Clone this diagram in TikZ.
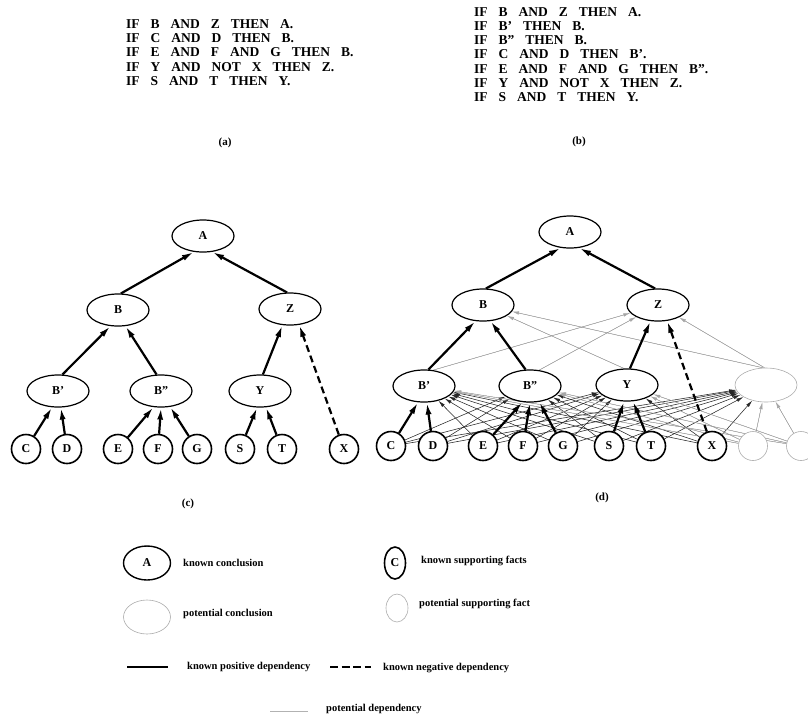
\documentclass[tikz,border=0pt]{standalone}
\usepackage{fontspec}
\setmainfont{Liberation Serif}
\usetikzlibrary{shapes.geometric,arrows.meta,backgrounds}

% wide word spacing for the rule listings
\newcommand\rulesetfont{\fontsize{13.5}{14}\selectfont\bfseries\spaceskip 11pt\relax}

\tikzset{
  concl/.style={ellipse, draw, fill=white, line width=1.2pt, minimum width=62pt,
    minimum height=32pt, inner sep=0pt, font=\fontsize{12}{12}\selectfont\bfseries},
  fact/.style={circle, draw, fill=white, line width=1.6pt, minimum size=29pt,
    inner sep=0pt, font=\fontsize{12}{12}\selectfont\bfseries},
  potconcl/.style={ellipse, draw=gray!65, fill=white, line width=0.6pt,
    minimum width=62pt, minimum height=34pt, inner sep=0pt},
  potfact/.style={circle, draw=gray!65, fill=white, line width=0.6pt,
    minimum size=29pt, inner sep=0pt},
  posdep/.style={line width=2.2pt, -{Latex[length=12pt,width=6pt]}},
  negdep/.style={posdep, dash pattern=on 7pt off 4pt},
  potdep/.style={line width=0.55pt, draw=black!85, -{Latex[length=7pt,width=3.5pt]}},
  potdepg/.style={potdep, draw=gray!70, fill=black},
  ruleline/.style={anchor=base west, inner sep=0pt, font=\rulesetfont},
  panel/.style={inner sep=0pt, font=\fontsize{11}{11}\selectfont\bfseries},
  legtext/.style={anchor=west, inner sep=0pt, font=\fontsize{10.5}{12}\selectfont\bfseries},
}

\begin{document}
\begin{tikzpicture}[x=1pt, y=-1pt]
\useasboundingbox (0,0) rectangle (808,716);
\clip (0,0) rectangle (808,716);

% ---------- (a) rule set ----------
\node[ruleline] (ra1) at (126,28)   {IF B AND Z THEN A.};
\node[ruleline] (ra2) at (126,42.4) {IF C AND D THEN B.};
\node[ruleline] (ra3) at (126,56.8) {IF E AND F AND G THEN B.};
\node[ruleline] (ra4) at (126,71.2) {IF Y AND NOT X THEN Z.};
\node[ruleline] (ra5) at (126,85.6) {IF S AND T THEN Y.};
\node[panel] (capa) at (225,143) {(a)};

% ---------- (b) rule set ----------
\node[ruleline] (rb1) at (474,16)    {IF B AND Z THEN A.};
\node[ruleline] (rb2) at (474,30.3)  {IF B' THEN B.};
\node[ruleline] (rb3) at (474,44.6)  {IF B'' THEN B.};
\node[ruleline] (rb4) at (474,58.9)  {IF C AND D THEN B'.};
\node[ruleline] (rb5) at (474,73.2)  {IF E AND F AND G THEN B''.};
\node[ruleline] (rb6) at (474,87.5)  {IF Y AND NOT X THEN Z.};
\node[ruleline] (rb7) at (474,101.8) {IF S AND T THEN Y.};
\node[panel] (capb) at (579,142) {(b)};

% ---------- (c) known network ----------
\node[concl] (cA)   at (203,236) {A};
\node[concl] (cB)   at (118,310) {B};
\node[concl] (cZ)   at (290,309) {Z};
\node[concl] (cBp)  at (58,391)  {B'};
\node[concl] (cBpp) at (161,391) {B''};
\node[concl] (cY)   at (260,391) {Y};
\node[fact] (cC) at (26,449)  {C};
\node[fact] (cD) at (67,449)  {D};
\node[fact] (cE) at (118,449) {E};
\node[fact] (cF) at (158,449) {F};
\node[fact] (cG) at (197,449) {G};
\node[fact] (cS) at (240,449) {S};
\node[fact] (cT) at (282,449) {T};
\node[fact] (cX) at (344,449) {X};
\node[panel] (capc) at (188,504) {(c)};

% ---------- (d) network with potential nodes ----------
\node[concl] (dA)   at (570,232) {A};
\node[concl] (dB)   at (483,305) {B};
\node[concl] (dZ)   at (658,305) {Z};
\node[concl] (dBp)  at (424,386) {B'};
\node[concl] (dBpp) at (530,386) {B''};
\node[concl] (dY)   at (627,385) {Y};
\node[potconcl] (dpm) at (766,385) {};
\node[fact] (dC) at (391,446) {C};
\node[fact] (dD) at (433,446) {D};
\node[fact] (dE) at (483,446) {E};
\node[fact] (dF) at (523,446) {F};
\node[fact] (dG) at (563,446) {G};
\node[fact] (dS) at (609,446) {S};
\node[fact] (dT) at (651,446) {T};
\node[fact] (dX) at (712,446) {X};
\node[potfact] (dp1) at (753,446) {};
\node[potfact] (dp2) at (801,446) {};
\node[panel] (capd) at (602,498) {(d)};

\begin{pgfonlayer}{background}
  % known dependencies in (c)
  \draw[posdep] (cB.80)    -- (cA.240);
  \draw[posdep] (cZ.100)   -- (cA.300);
  \draw[posdep] (cBp.75)   -- (cB.245);
  \draw[posdep] (cBpp.105) -- (cB.295);
  \draw[posdep] (cY.80)    -- (cZ.245);
  \draw[negdep] (cX)       -- (cZ.300);
  \draw[posdep] (cC) -- (cBp.250);
  \draw[posdep] (cD) -- (cBp.280);
  \draw[posdep] (cE) -- (cBpp.245);
  \draw[posdep] (cF) -- (cBpp.270);
  \draw[posdep] (cG) -- (cBpp.300);
  \draw[posdep] (cS) -- (cY.260);
  \draw[posdep] (cT) -- (cY.290);

  % potential dependencies in (d)
  \draw[potdepg] (dBp.60)  -- (dZ);
  \draw[potdepg] (dBpp.60) -- (dZ);
  \draw[potdepg] (dY.100)  -- (dB);
  \draw[potdepg] (dpm.100) -- (dB);
  \draw[potdepg] (dpm.95)  -- (dZ);
  \foreach \l in {dE,dF,dG,dS,dT,dX} \draw[potdep] (\l) -- (dBp);
  \foreach \l in {dC,dD,dS,dT,dX}    \draw[potdep] (\l) -- (dBpp);
  \foreach \l in {dC,dD,dE,dF,dG,dX} \draw[potdep] (\l) -- (dY);
  \foreach \l in {dC,dD,dE,dF,dG,dS,dT,dX} \draw[potdep] (\l) -- (dpm);
  \foreach \m in {dBp,dBpp,dY,dpm} {
    \draw[potdepg] (dp1) -- (\m);
    \draw[potdepg] (dp2) -- (\m);
  }

  % known dependencies in (d)
  \draw[posdep] (dB.80)    -- (dA.240);
  \draw[posdep] (dZ.100)   -- (dA.300);
  \draw[posdep] (dBp.75)   -- (dB.245);
  \draw[posdep] (dBpp.105) -- (dB.295);
  \draw[posdep] (dY.80)    -- (dZ.245);
  \draw[negdep] (dX)       -- (dZ.300);
  \draw[posdep] (dC) -- (dBp.250);
  \draw[posdep] (dD) -- (dBp.280);
  \draw[posdep] (dE) -- (dBpp.245);
  \draw[posdep] (dF) -- (dBpp.270);
  \draw[posdep] (dG) -- (dBpp.300);
  \draw[posdep] (dS) -- (dY.260);
  \draw[posdep] (dT) -- (dY.290);
\end{pgfonlayer}

% ---------- legend ----------
\node[concl, line width=1.4pt, minimum width=47pt, minimum height=34pt] (legA) at (147,563) {A};
\node[legtext] (legAt) at (183,563) {known conclusion};
\node[potconcl, minimum width=47pt, minimum height=34pt] (legPC) at (147,617) {};
\node[legtext] (legPCt) at (183,614) {potential conclusion};
\node[fact, ellipse, minimum width=21pt, minimum height=32pt] (legC) at (395,563) {C};
\node[legtext] (legCt) at (421,561) {known supporting facts};
\node[potfact, ellipse, minimum width=22pt, minimum height=28pt] (legPF) at (397,608) {};
\node[legtext] (legPFt) at (419,604) {potential supporting fact};

\coordinate (kp1) at (127,667);
\coordinate (kp2) at (168,667);
\draw[line width=2.4pt] (kp1) -- (kp2);
\node[legtext] (legKP) at (187,667) {known positive dependency};
\coordinate (kn1) at (330,667);
\coordinate (kn2) at (371,667);
\draw[line width=2.4pt, dash pattern=on 8pt off 3.5pt] (kn1) -- (kn2);
\node[legtext] (legKN) at (383,668) {known negative dependency};
\coordinate (pd1) at (270,711);
\coordinate (pd2) at (308,711);
\draw[line width=0.6pt, gray!60] (pd1) -- (pd2);
\node[legtext] (legPD) at (326,709) {potential dependency};
\end{tikzpicture}
\end{document}
